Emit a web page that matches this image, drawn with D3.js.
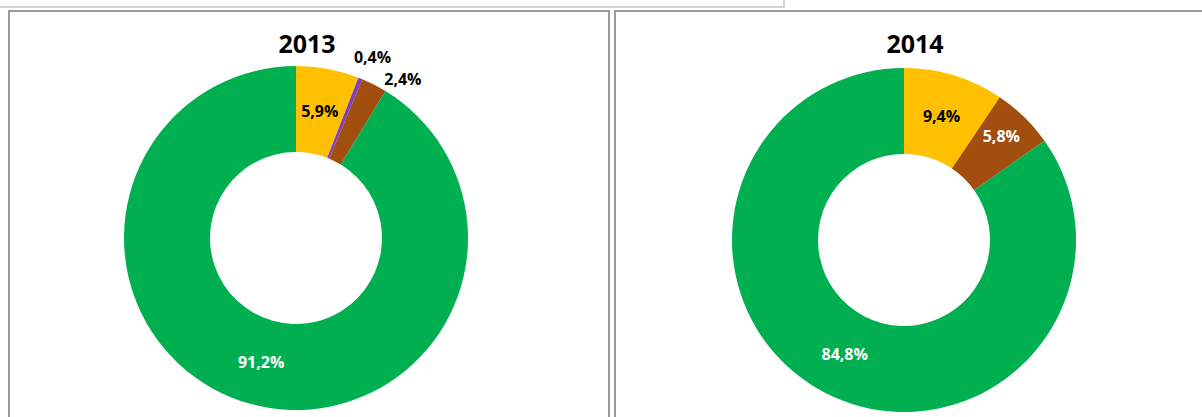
<!DOCTYPE html>
<html>
<head>
<meta charset="utf-8">
<script src="https://d3js.org/d3.v7.min.js"></script>
<style>
  body { margin: 0; background: #fff; }
  svg text { font-family: "Open Sans", "Noto Sans", sans-serif; font-weight: bold; }
</style>
</head>
<body>
<div id="chart"></div>
<script>
// shares per year, clockwise from 12 o'clock
var categories = ["amarelo", "roxo", "marrom", "verde"];
var colors = ["#FFC000", "#7F3FBF", "#A14E0F", "#00B050"];
var values2013 = [5.9, 0.4, 2.4, 91.2];
var values2014 = [9.4, 0, 5.8, 84.8];
var labels2013 = ["5,9%", "0,4%", "2,4%", "91,2%"];
var labels2014 = ["9,4%", "", "5,8%", "84,8%"];
var labelColors2013 = ["#000", "#000", "#000", "#fff"];
var labelColors2014 = ["#000", "#000", "#fff", "#fff"];
// labels that Excel pushed away from the ring centre (angle shift in degrees, radius)
var outside2013 = [null, {da: 1, r: 196}, {da: 7, r: 191}, null];
var outside2014 = [null, null, {da: -1, r: 142}, null];

var W = 1202, H = 417;
var svg = d3.select("#chart").append("svg")
  .attr("width", W).attr("height", H);

// bottom edge of the box above the charts
svg.append("rect")
  .attr("x", -5).attr("y", -10).attr("width", 789).attr("height", 17)
  .attr("fill", "#fff").attr("stroke", "#c4c4c4").attr("stroke-width", 1.5);

function panel(x0, w, cx, cy, title, values, labels, labColors, outside) {
  var g = svg.append("g");
  g.append("rect")
    .attr("x", x0).attr("y", 11).attr("width", w).attr("height", H + 20)
    .attr("fill", "#fff").attr("stroke", "#9a9a9a").attr("stroke-width", 2);

  // title sits a bit right of the ring centre, as in the source
  g.append("text")
    .attr("x", cx + 11).attr("y", 53)
    .attr("text-anchor", "middle")
    .attr("font-size", 25)
    .attr("fill", "#000")
    .text(title);

  var rOut = 172, rIn = 86;
  var pie = d3.pie().sort(null).value(function(d) { return d; });
  var arc = d3.arc().innerRadius(rIn).outerRadius(rOut);
  var arcs = pie(values);

  var c = g.append("g").attr("transform", "translate(" + cx + "," + cy + ")");
  c.selectAll("path")
    .data(arcs)
    .enter().append("path")
      .attr("d", arc)
      .attr("fill", function(d, i) { return colors[i]; });

  c.selectAll("text")
    .data(arcs)
    .enter().append("text")
      .attr("text-anchor", "middle")
      .attr("dy", "0.35em")
      .attr("font-size", 16)
      .attr("fill", function(d, i) { return labColors[i]; })
      .attr("transform", function(d, i) {
        var o = outside[i];
        if (o) {
          var a = (d.startAngle + d.endAngle) / 2 + o.da * Math.PI / 180;
          return "translate(" + (o.r * Math.sin(a)) + "," + (-o.r * Math.cos(a)) + ")";
        }
        return "translate(" + arc.centroid(d) + ")";
      })
      .text(function(d, i) { return labels[i]; });
}

panel(9, 600, 296, 238, "2013", values2013, labels2013, labelColors2013, outside2013);
panel(615, 600, 904, 240, "2014", values2014, labels2014, labelColors2014, outside2014);
</script>
</body>
</html>
